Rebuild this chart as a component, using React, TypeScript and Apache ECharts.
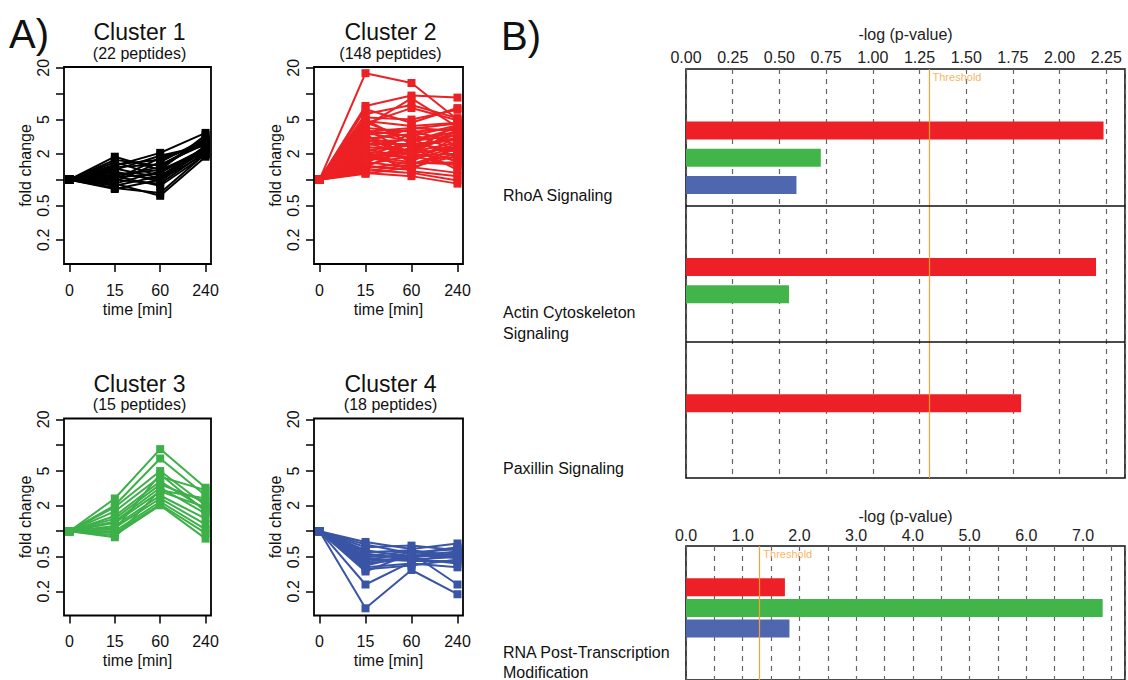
import React, { useEffect, useRef } from "react";
import * as echarts from "echarts";

// ---------- Panel A data ----------
const timeLabels = ["0", "15", "60", "240"];
const foldTickValues = [0.2, 0.5, 1, 2, 5, 10, 20];
const foldLabelValues = [0.2, 0.5, 2, 5, 20];

const clusterTitles = ["Cluster 1", "Cluster 2", "Cluster 3", "Cluster 4"];
const clusterCounts = ["(22 peptides)", "(148 peptides)", "(15 peptides)", "(18 peptides)"];
const clusterColors = ["#000000", "#ED2024", "#3DB049", "#3A55A5"];

// fold change at 0, 15, 60, 240 min
const cluster1 = [
  [1, 1.85, 1.3, 2.2], [1, 1.6, 1.1, 2.4], [1, 1.4, 1.5, 2.6], [1, 1.3, 1.9, 2.5],
  [1, 1.2, 1.0, 2.0], [1, 1.1, 1.4, 2.8], [1, 1.05, 1.2, 2.3], [1, 1.0, 0.9, 2.1],
  [1, 0.95, 1.6, 3.0], [1, 0.9, 0.65, 1.85], [1, 0.85, 1.1, 2.2], [1, 0.8, 0.7, 2.0],
  [1, 1.5, 1.7, 2.7], [1, 1.25, 0.95, 2.4], [1, 1.15, 1.3, 3.3], [1, 1.0, 1.8, 2.6],
  [1, 0.9, 1.25, 2.35], [1, 1.35, 1.05, 2.15], [1, 1.7, 1.45, 2.9], [1, 1.1, 0.85, 1.95],
  [1, 0.78, 1.0, 2.5], [1, 1.45, 2.05, 3.5],
];
const cluster2 = [
  [1, 17.3, 13.3, 5.0], [1, 7.2, 9.5, 9.0], [1, 6.6, 4.6, 6.8], [1, 5.8, 7.4, 5.2],
  [1, 4.5, 6.8, 4.9], [1, 5.3, 5.0, 6.5], [1, 4.8, 4.2, 4.6], [1, 4.2, 8.8, 4.1],
  [1, 4.0, 3.6, 3.9], [1, 3.7, 3.2, 4.3], [1, 3.5, 2.8, 3.3], [1, 3.3, 3.8, 2.5],
  [1, 3.1, 2.4, 3.0], [1, 3.0, 3.4, 2.2], [1, 2.9, 2.1, 2.7], [1, 2.8, 2.9, 3.6],
  [1, 2.7, 1.9, 2.0], [1, 2.6, 2.6, 2.9], [1, 2.5, 3.0, 1.8], [1, 2.4, 2.2, 3.4],
  [1, 2.3, 1.7, 2.4], [1, 2.2, 2.5, 1.6], [1, 2.1, 2.0, 3.8], [1, 2.0, 1.8, 2.6],
  [1, 1.95, 2.7, 2.1], [1, 1.9, 1.6, 1.5], [1, 1.85, 2.3, 3.1], [1, 1.8, 1.5, 2.3],
  [1, 1.7, 2.0, 1.7], [1, 1.65, 3.6, 2.8], [1, 1.6, 1.4, 1.9], [1, 1.55, 2.8, 4.0],
  [1, 1.5, 1.9, 1.45], [1, 1.45, 1.3, 2.5], [1, 1.4, 2.4, 1.3], [1, 1.35, 1.6, 3.2],
  [1, 1.3, 1.2, 0.98], [1, 1.25, 1.5, 2.0], [1, 1.2, 1.1, 0.9], [1, 1.17, 1.4, 1.2],
  [1, 3.9, 2.0, 2.4], [1, 3.4, 1.55, 1.6], [1, 2.75, 3.9, 4.5], [1, 4.6, 3.0, 3.5],
  [1, 5.0, 2.6, 2.2], [1, 3.6, 4.0, 3.7], [1, 2.15, 1.25, 1.1], [1, 1.75, 2.15, 4.4],
];
const cluster3 = [
  [1, 2.4, 9.0, 3.2], [1, 2.0, 7.0, 2.6], [1, 1.9, 5.0, 2.0], [1, 1.7, 4.3, 3.0],
  [1, 1.5, 3.8, 1.8], [1, 1.4, 3.5, 2.2], [1, 1.3, 3.2, 1.6], [1, 1.25, 2.9, 1.9],
  [1, 1.15, 2.6, 1.4], [1, 1.1, 2.4, 1.2], [1, 1.0, 2.2, 1.05], [1, 0.95, 2.05, 0.95],
  [1, 0.9, 2.0, 0.82], [1, 0.85, 3.0, 2.4], [1, 1.05, 4.6, 1.7],
];
const cluster4 = [
  [1, 0.75, 0.62, 0.72], [1, 0.7, 0.55, 0.65], [1, 0.65, 0.68, 0.6], [1, 0.6, 0.5, 0.55],
  [1, 0.57, 0.6, 0.52], [1, 0.55, 0.47, 0.5], [1, 0.52, 0.58, 0.48], [1, 0.5, 0.52, 0.58],
  [1, 0.48, 0.45, 0.45], [1, 0.46, 0.56, 0.62], [1, 0.44, 0.5, 0.54], [1, 0.42, 0.48, 0.42],
  [1, 0.4, 0.53, 0.5], [1, 0.38, 0.42, 0.38], [1, 0.36, 0.4, 0.47], [1, 0.34, 0.55, 0.24],
  [1, 0.24, 0.44, 0.56], [1, 0.127, 0.354, 0.185],
];
const clusters = [cluster1, cluster2, cluster3, cluster4];

// ---------- Panel B data ----------
const pathways = ["RhoA Signaling", "Actin Cytoskeleton\nSignaling", "Paxillin Signaling"];
const barColors = ["#EE2027", "#41B549", "#4F67AF"]; // cluster 2, 3, 4
const pathwayValues: (number | null)[][] = [
  [2.23, 0.72, 0.59],
  [2.19, 0.55, null],
  [1.79, null, null],
];
const rnaLabel = "RNA Post-Transcription\nModification";
const rnaValues = [1.74, 7.33, 1.82];
const threshold = 1.301; // -log10(0.05)
const upperMax = 2.35;
const lowerMax = 7.74;

const FONT = '"Liberation Sans", Arial, Helvetica, sans-serif';
const ORANGE = "#F7A035";

// layout of panel A boxes
const aBoxes = [
  { left: 64, top: 67, width: 147, height: 197 },
  { left: 314, top: 67, width: 149, height: 197 },
  { left: 64, top: 418.5, width: 147, height: 197 },
  { left: 314, top: 418.5, width: 149, height: 197 },
];

function buildOption() {
  const grid: any[] = [];
  const xAxis: any[] = [];
  const yAxis: any[] = [];
  const series: any[] = [];
  const graphic: any[] = [];

  aBoxes.forEach((b, i) => {
    grid.push({ ...b, show: true, borderColor: "#000", borderWidth: 1.8, backgroundColor: "transparent" });
    xAxis.push({
      gridIndex: i, type: "value", min: 0.88, max: 4.12,
      name: "time [min]", nameLocation: "middle", nameGap: 37,
      nameTextStyle: { fontSize: 16, color: "#111", fontFamily: FONT },
      axisLine: { show: false, onZero: false }, splitLine: { show: false },
      axisTick: { show: true, customValues: [1, 2, 3, 4], length: 8, lineStyle: { color: "#000", width: 1.5 } },
      axisLabel: {
        customValues: [1, 2, 3, 4], margin: 18, fontSize: 16, color: "#111", fontFamily: FONT,
        formatter: (v: number) => timeLabels[Math.round(v) - 1] ?? "",
      },
    });
    yAxis.push({
      gridIndex: i, type: "value", min: -0.98, max: 1.31,
      name: "fold change", nameLocation: "middle", nameGap: 31,
      nameTextStyle: { fontSize: 16, color: "#111", fontFamily: FONT },
      axisLine: { show: false, onZero: false }, splitLine: { show: false },
      axisTick: { show: true, customValues: foldTickValues.map(Math.log10), length: 8, lineStyle: { color: "#000", width: 1.5 } },
      axisLabel: {
        customValues: foldLabelValues.map(Math.log10), rotate: 90, margin: 13, fontSize: 16, color: "#111", fontFamily: FONT,
        formatter: (v: number) => {
          const f = Math.pow(10, v);
          const near = foldLabelValues.find((t) => Math.abs(t - f) / t < 0.01);
          return near !== undefined ? String(near) : "";
        },
      },
    });
    clusters[i].forEach((pep) => {
      series.push({
        type: "line", xAxisIndex: i, yAxisIndex: i, silent: true,
        data: pep.map((v, j) => [j + 1, Math.log10(v)]),
        symbol: "rect", symbolSize: 8, showSymbol: true,
        lineStyle: { width: 2, color: clusterColors[i] },
        itemStyle: { color: clusterColors[i] },
      });
    });
    const cx = b.left + b.width / 2;
    graphic.push({
      type: "text", x: cx + 2, y: b.top - 35,
      style: { text: clusterTitles[i], fontSize: 23, fontFamily: FONT, fill: "#111", align: "center", verticalAlign: "middle" },
    });
    graphic.push({
      type: "text", x: cx + 2, y: b.top - 14,
      style: { text: clusterCounts[i], fontSize: 16, fontFamily: FONT, fill: "#111", align: "center", verticalAlign: "middle" },
    });
  });

  // ---------- Panel B upper ----------
  const bLeft = 686;
  const bWidth = 440;
  const upTop = 69;
  const upHeight = 409;
  const row = upHeight / 15;
  const axisLabelStyle = { fontSize: 16, color: "#222", fontFamily: FONT };
  const dashed = { show: true, lineStyle: { color: "#666", width: 1.2, type: [5, 5] } };

  // frame grid (index 4)
  grid.push({ left: bLeft, top: upTop, width: bWidth, height: upHeight, show: true, borderColor: "#111", borderWidth: 1.6 });
  xAxis.push({
    gridIndex: 4, type: "value", position: "top", min: 0, max: upperMax, interval: 0.25,
    name: "-log (p-value)", nameLocation: "middle", nameGap: 27,
    nameTextStyle: { fontSize: 16, color: "#222", fontFamily: FONT },
    axisLine: { show: false, onZero: false }, axisTick: { show: false }, splitLine: dashed,
    axisLabel: {
      ...axisLabelStyle, margin: 4,
      formatter: (v: number) => (Math.abs(v / 0.25 - Math.round(v / 0.25)) < 1e-6 ? v.toFixed(2) : ""),
    },
  });
  yAxis.push({ gridIndex: 4, type: "value", min: 0, max: 3, show: false, splitLine: { show: false } });
  series.push({
    type: "scatter", xAxisIndex: 4, yAxisIndex: 4, silent: true,
    data: [[threshold, 3]], symbolSize: 1, itemStyle: { color: "transparent" },
    label: { show: true, formatter: "Threshold", position: [4, 3], align: "left", verticalAlign: "top", color: ORANGE, fontSize: 11, fontFamily: FONT },
    markLine: {
      silent: true, symbol: "none", label: { show: false },
      data: [
        { xAxis: threshold, lineStyle: { color: ORANGE, width: 1.2, type: "solid" } },
        { yAxis: 1, lineStyle: { color: "#111", width: 1.6, type: "solid" } },
        { yAxis: 2, lineStyle: { color: "#111", width: 1.6, type: "solid" } },
      ],
    },
  });

  // bar grid (index 5)
  const upRows: string[] = [];
  const upData: any[] = [];
  pathways.forEach((p, pi) => {
    for (let r = 0; r < 5; r++) {
      upRows.push(`${p}-${r}`);
      const k = r - 2;
      const v = k >= 0 ? pathwayValues[pi][k] : null;
      upData.push(v == null ? "-" : { value: v, itemStyle: { color: barColors[k] } });
    }
  });
  grid.push({ left: bLeft, top: upTop - 6.6, width: bWidth, height: upHeight });
  xAxis.push({ gridIndex: 5, type: "value", min: 0, max: upperMax, show: false, splitLine: { show: false } });
  yAxis.push({ gridIndex: 5, type: "category", data: upRows, inverse: true, show: false });
  series.push({ type: "bar", xAxisIndex: 5, yAxisIndex: 5, barWidth: 18, silent: true, data: upData });

  // ---------- Panel B lower ----------
  const lowTop = 546;
  grid.push({ left: bLeft, top: lowTop, width: bWidth, height: 200, show: true, borderColor: "#111", borderWidth: 1.6 });
  xAxis.push({
    gridIndex: 6, type: "value", position: "top", min: 0, max: lowerMax, interval: 0.5,
    name: "-log (p-value)", nameLocation: "middle", nameGap: 22,
    nameTextStyle: { fontSize: 16, color: "#222", fontFamily: FONT },
    axisLine: { show: false, onZero: false }, axisTick: { show: false }, splitLine: dashed,
    axisLabel: {
      ...axisLabelStyle, margin: 3,
      formatter: (v: number) => (Math.abs(v - Math.round(v)) < 1e-6 ? v.toFixed(1) : ""),
    },
  });
  yAxis.push({ gridIndex: 6, type: "value", min: 0, max: 1, show: false, splitLine: { show: false } });
  series.push({
    type: "scatter", xAxisIndex: 6, yAxisIndex: 6, silent: true,
    data: [[threshold, 1]], symbolSize: 1, itemStyle: { color: "transparent" },
    label: { show: true, formatter: "Threshold", position: [4, 3], align: "left", verticalAlign: "top", color: ORANGE, fontSize: 11, fontFamily: FONT },
    markLine: {
      silent: true, symbol: "none", label: { show: false },
      data: [{ xAxis: threshold, lineStyle: { color: ORANGE, width: 1.2, type: "solid" } }],
    },
  });
  const lowRows: string[] = [];
  const lowData: any[] = [];
  for (let r = 0; r < 7; r++) {
    lowRows.push(`rna-${r}`);
    const k = r - 2;
    const v = k >= 0 && k < 3 ? rnaValues[k] : null;
    lowData.push(v == null ? "-" : { value: v, itemStyle: { color: barColors[k] } });
  }
  grid.push({ left: bLeft, top: lowTop - 10.2, width: bWidth, height: row * 7 });
  xAxis.push({ gridIndex: 7, type: "value", min: 0, max: lowerMax, show: false, splitLine: { show: false } });
  yAxis.push({ gridIndex: 7, type: "category", data: lowRows, inverse: true, show: false });
  series.push({ type: "bar", xAxisIndex: 7, yAxisIndex: 7, barWidth: 18, silent: true, data: lowData });

  // ---------- texts ----------
  graphic.push({ type: "text", x: 9, y: 34, style: { text: "A)", fontSize: 40, fontFamily: FONT, fill: "#111", align: "left", verticalAlign: "middle" } });
  graphic.push({ type: "text", x: 501, y: 36, style: { text: "B)", fontSize: 40, fontFamily: FONT, fill: "#111", align: "left", verticalAlign: "middle" } });
  const labelY = [195, 322.5, 468];
  pathways.forEach((p, i) => {
    graphic.push({
      type: "text", x: 503, y: labelY[i],
      style: { text: p, fontSize: 16, lineHeight: 21, fontFamily: FONT, fill: "#111", align: "left", verticalAlign: "middle" },
    });
  });
  graphic.push({
    type: "text", x: 503, y: 662,
    style: { text: rnaLabel, fontSize: 16, lineHeight: 20, fontFamily: FONT, fill: "#111", align: "left", verticalAlign: "middle" },
  });

  return {
    animation: false,
    backgroundColor: "#ffffff",
    textStyle: { fontFamily: FONT },
    grid, xAxis, yAxis, series, graphic,
  };
}

export default function App() {
  const ref = useRef<HTMLDivElement>(null);
  useEffect(() => {
    if (!ref.current) return;
    const chart = echarts.init(ref.current, undefined, { renderer: "svg" });
    chart.setOption(buildOption() as any);
    return () => chart.dispose();
  }, []);
  return (
    <div
      ref={ref}
      style={{ position: "fixed", left: 0, top: 0, width: 1128, height: 680, background: "#fff" }}
    />
  );
}
